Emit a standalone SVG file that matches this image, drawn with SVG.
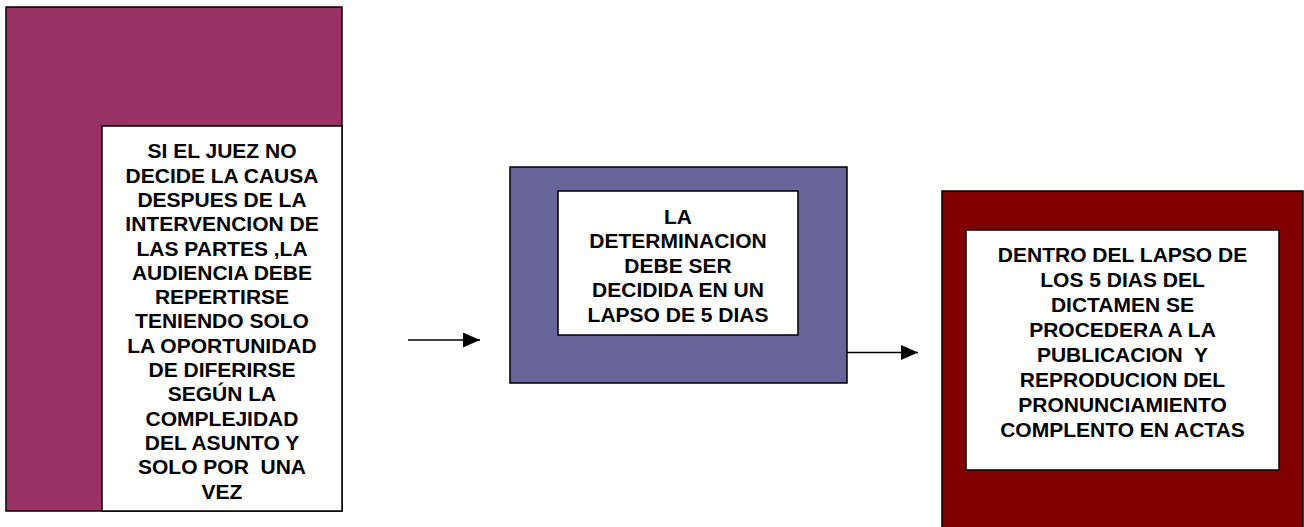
<svg xmlns="http://www.w3.org/2000/svg" width="1304" height="527" viewBox="0 0 1304 527">
  <style>
    .box { stroke: #000000; stroke-width: 1.5; }
    .inner { fill: #ffffff; stroke: #000000; stroke-width: 1.5; }
    .t { font-family: "Liberation Sans", Arial, sans-serif; font-weight: bold; font-size: 21px; fill: #000000; text-anchor: middle; white-space: pre; }
    .conn { stroke: #000000; stroke-width: 1.5; fill: none; }
  </style>
  <defs>
    <marker id="arrow" markerUnits="userSpaceOnUse" markerWidth="17" markerHeight="15" viewBox="0 0 17 15" refX="17" refY="7.5" orient="auto">
      <path d="M0,0 L17,7.5 L0,15 Z" fill="#000000"/>
    </marker>
  </defs>
  <rect width="1304" height="527" fill="#ffffff"/>

  <g id="node-left">
    <rect class="box" x="6" y="7" width="336" height="504" fill="#993366"/>
    <rect class="inner" x="102" y="126" width="240" height="385"/>
    <text class="t" x="222" y="158.3">SI EL JUEZ NO</text>
    <text class="t" x="222" y="182.6">DECIDE LA CAUSA</text>
    <text class="t" x="222" y="206.9">DESPUES DE LA</text>
    <text class="t" x="222" y="231.2">INTERVENCION DE</text>
    <text class="t" x="222" y="255.5">LAS PARTES ,LA</text>
    <text class="t" x="222" y="279.8">AUDIENCIA DEBE</text>
    <text class="t" x="222" y="304.1">REPERTIRSE</text>
    <text class="t" x="222" y="328.4">TENIENDO SOLO</text>
    <text class="t" x="222" y="352.7">LA OPORTUNIDAD</text>
    <text class="t" x="222" y="377">DE DIFERIRSE</text>
    <text class="t" x="222" y="401.3">SEGÚN LA</text>
    <text class="t" x="222" y="425.6">COMPLEJIDAD</text>
    <text class="t" x="222" y="449.9">DEL ASUNTO Y</text>
    <text class="t" x="222" y="474.2">SOLO POR  UNA</text>
    <text class="t" x="222" y="498.5">VEZ</text>
  </g>

  <g id="node-middle">
    <rect class="box" x="510" y="167" width="337" height="216" fill="#666699"/>
    <rect class="inner" x="558" y="191" width="240" height="144"/>
    <text class="t" x="678" y="223.5">LA</text>
    <text class="t" x="678" y="248">DETERMINACION</text>
    <text class="t" x="678" y="272.5">DEBE SER</text>
    <text class="t" x="678" y="297">DECIDIDA EN UN</text>
    <text class="t" x="678" y="321.5">LAPSO DE 5 DIAS</text>
  </g>

  <g id="node-right">
    <rect class="box" x="942" y="191" width="361" height="350" fill="#800000"/>
    <rect class="inner" x="966" y="230" width="313" height="240"/>
    <text class="t" x="1122.5" y="261.7">DENTRO DEL LAPSO DE</text>
    <text class="t" x="1122.5" y="286.7">LOS 5 DIAS DEL</text>
    <text class="t" x="1122.5" y="311.7">DICTAMEN SE</text>
    <text class="t" x="1122.5" y="336.7">PROCEDERA A LA</text>
    <text class="t" x="1122.5" y="361.7">PUBLICACION  Y</text>
    <text class="t" x="1122.5" y="386.7">REPRODUCION DEL</text>
    <text class="t" x="1122.5" y="411.7">PRONUNCIAMIENTO</text>
    <text class="t" x="1122.5" y="436.7">COMPLENTO EN ACTAS</text>
  </g>

  <g id="connectors">
    <line class="conn" x1="408" y1="340" x2="480" y2="340" marker-end="url(#arrow)"/>
    <line class="conn" x1="847" y1="352.5" x2="918" y2="352.5" marker-end="url(#arrow)"/>
  </g>
</svg>
